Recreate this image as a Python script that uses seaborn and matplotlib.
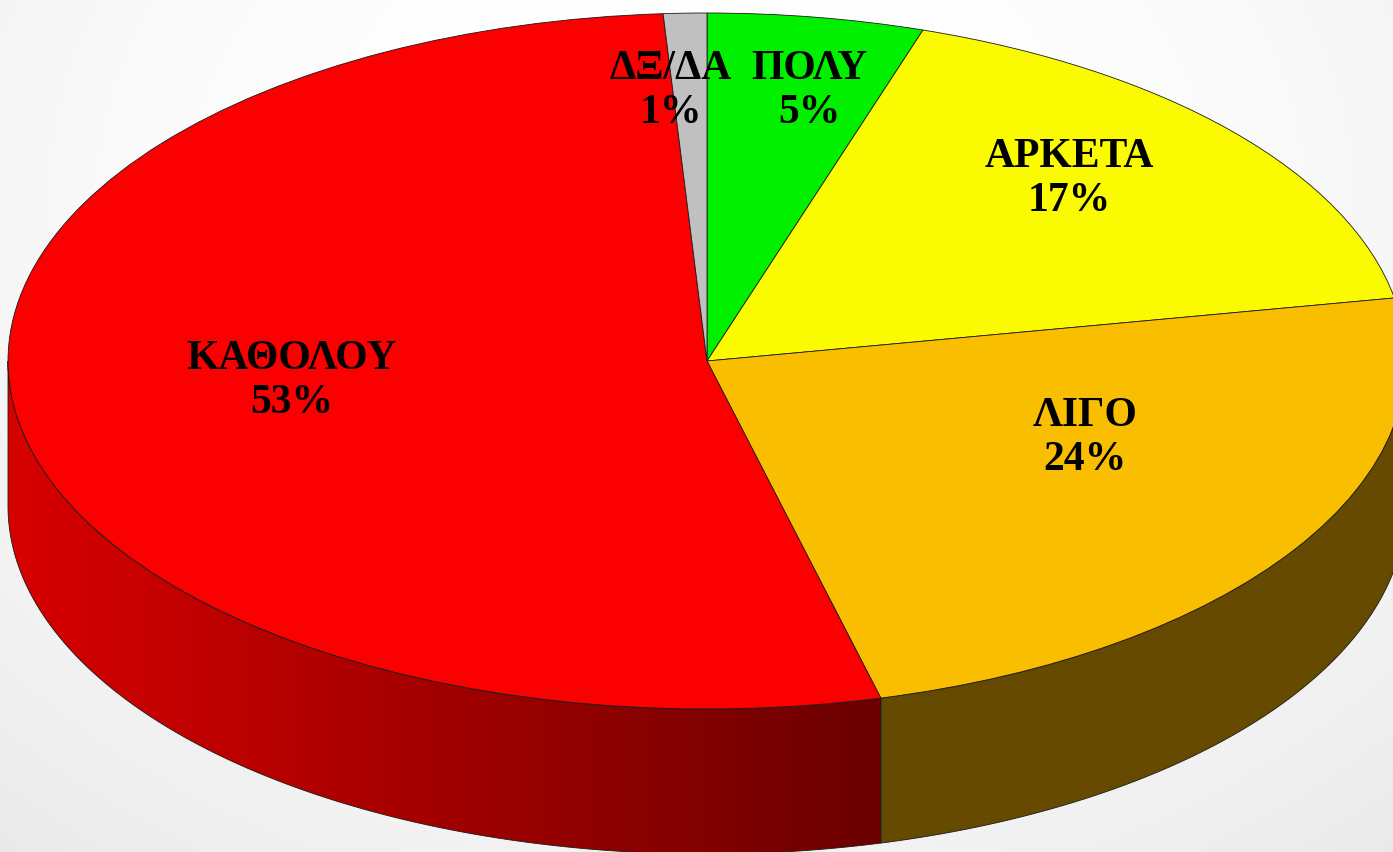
import numpy as np
import pandas as pd
import matplotlib.pyplot as plt
from matplotlib.colors import LinearSegmentedColormap
from matplotlib.patches import Polygon
import seaborn as sns

# Answers and their share (%), clockwise from 12 o'clock
answers = ['ΠΟΛΥ', 'ΑΡΚΕΤΑ', 'ΛΙΓΟ', 'ΚΑΘΟΛΟΥ', 'ΔΞ/ΔΑ']
shares = [5.0, 17.1, 23.9, 53.0, 1.0]

df = pd.DataFrame({'answer': answers, 'share': shares})

# styling
top_colors = ['#00F000', '#FAFA00', '#FABE00', '#FA0000', '#C0C0C0']
side_colors = [('#006400', '#006400'), ('#6A6A00', '#6A6A00'), ('#654A00', '#654A00'),
               ('#D70000', '#6C0000'), ('#707070', '#707070')]
label_xy = [(0.147, 0.777), (0.518, 0.522), (0.541, -0.221), (-0.594, -0.058), (-0.052, 0.777)]

# pixel layout of the tilted pie
W, H = 1393, 852
CX, CY, RX, RY = 707, 361, 699, 348
depth = 145 / RY

sns.set_theme(style="white")
plt.rcParams['font.family'] = ['Liberation Serif', 'DejaVu Serif']

fig = plt.figure(figsize=(W / 100, H / 100), dpi=100)
ax = fig.add_axes([0, 0, 1, 1])

xlim = (-CX / RX, (W - CX) / RX)
ylim = (-(H - CY) / RY, CY / RY)

# soft gray background
yy, xx = np.mgrid[0:H, 0:W]
d = np.hypot((xx - 700) / 900, (yy - 200) / 700)
bg = 1 - 0.06 * d ** 2
ax.imshow(bg, cmap='gray', vmin=0, vmax=1, extent=(*xlim, ylim[0], ylim[1]),
          aspect='auto', zorder=0, interpolation='bilinear')

wedges, _ = ax.pie(df['share'], colors=top_colors, startangle=90, counterclock=False,
                   wedgeprops=dict(edgecolor='#1a1a1a', linewidth=0.6, zorder=3))

# front wall of the pie (lower half of the ellipse only)
for w, (c_left, c_right) in zip(wedges, side_colors):
    lo, hi = max(w.theta1, -180), min(w.theta2, 0)
    if hi <= lo:
        continue
    t = np.radians(np.linspace(lo, hi, 300))
    top = np.column_stack([np.cos(t), np.sin(t)])
    bot = np.column_stack([np.cos(t[::-1]), np.sin(t[::-1]) - depth])
    poly = Polygon(np.vstack([top, bot]), closed=True, fc='none',
                   ec='#1a1a1a', lw=0.6, zorder=2.5)
    ax.add_patch(poly)
    cmap = LinearSegmentedColormap.from_list('side', [c_left, c_right])
    grad = np.linspace(0, 1, 256).reshape(1, -1)
    im = ax.imshow(grad, cmap=cmap, extent=(top[:, 0].min(), top[:, 0].max(), -1 - depth, 0),
                   aspect='auto', zorder=2, interpolation='bilinear')
    im.set_clip_path(poly)

for name, share, (lx, ly) in zip(df['answer'], df['share'], label_xy):
    ax.text(lx, ly, f'{name}\n{round(share)}%', ha='center', va='center', color='black',
            fontsize=30, fontweight='bold', linespacing=1.2, zorder=5)

ax.set_aspect('auto')
ax.set_xlim(*xlim)
ax.set_ylim(*ylim)
ax.axis('off')

fig.savefig('out.png', dpi=100)
